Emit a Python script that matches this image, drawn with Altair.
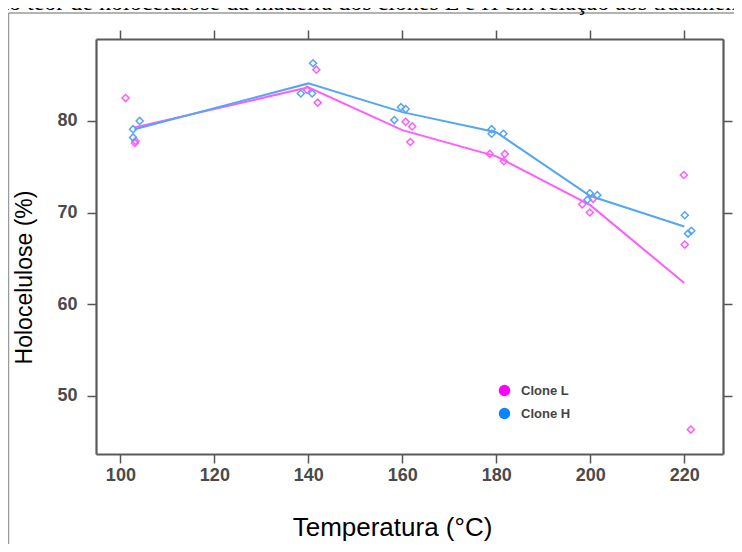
import altair as alt
import pandas as pd

# ---- data ----
temps = [103, 103, 103, 140, 140, 140, 160, 160, 160, 180, 180, 180, 200, 200, 200, 220, 220, 220]
x_L = [101.1, 103.1, 103.2, 141.7, 142.0, 139.7, 160.7, 162.1, 161.7, 178.6, 181.8, 181.6, 198.3, 199.9, 200.6, 219.9, 220.1, 221.4]
y_L = [82.5, 77.6, 77.8, 85.6, 82.0, 83.4, 79.9, 79.4, 77.7, 76.4, 76.4, 75.6, 70.9, 70.0, 71.5, 74.1, 66.5, 46.3]
x_H = [104.1, 102.7, 102.7, 141.0, 138.4, 140.8, 159.7, 160.7, 158.3, 179.0, 179.0, 181.5, 199.9, 201.5, 199.4, 220.1, 220.8, 221.5]
y_H = [80.0, 79.1, 78.2, 86.3, 83.0, 83.0, 81.5, 81.3, 80.1, 79.1, 78.6, 78.6, 72.1, 71.9, 71.4, 69.7, 67.7, 68.0]
clones = ["Clone L", "Clone H"]
legend_labels = ["Clone L", "Clone H"]
point_colors = ["#FF5CFF", "#55A5F5"]
legend_colors = ["#FF00FF", "#0A84FF"]
x_ticks = [100, 120, 140, 160, 180, 200, 220]
y_ticks = [50, 60, 70, 80]
caption = "do teor de holocelulose da madeira dos clones L e H em  relação aos tratamentos"

df = pd.DataFrame({
    "clone": [clones[0]] * len(x_L) + [clones[1]] * len(x_H),
    "temp": temps + temps,
    "x": x_L + x_H,
    "y": y_L + y_H,
})
leg_df = pd.DataFrame({"label": legend_labels})
one = pd.DataFrame({"a": [0]})

xs = alt.Scale(domain=[94.81, 228.24], nice=False, zero=False)
ys = alt.Scale(domain=[43.63, 88.95], nice=False, zero=False)
cs = alt.Scale(domain=clones, range=point_colors)

LABEL_FONT = "Liberation Sans Narrow, Liberation Sans, Arial"
common = dict(tickColor="#555555", tickWidth=1.5, tickSize=9, domain=True, domainColor="#5a5a5a",
              domainWidth=2.2, grid=False,
              labelFont=LABEL_FONT, labelFontSize=18, labelFontWeight="bold", labelColor="#4a4a4a")

points = alt.Chart(df).mark_point(shape="diamond", filled=False, size=50, strokeWidth=1.5, opacity=1).encode(
    x=alt.X("x:Q", scale=xs, axis=alt.Axis(values=x_ticks, orient="bottom", title="Temperatura (°C)",
                                           labelPadding=3, titleFont="Liberation Sans", titleFontSize=26,
                                           titleFontWeight="normal", titleColor="black",
                                           titleX=296, titleY=73, titleBaseline="middle", **common)),
    y=alt.Y("y:Q", scale=ys, axis=alt.Axis(values=y_ticks, orient="left", title="Holocelulose (%)",
                                           labelPadding=10, titleFont="Liberation Sans", titleFontSize=23,
                                           titleFontWeight="normal", titleColor="black",
                                           titleX=-72, titleY=238, titleBaseline="middle", **common)),
    color=alt.Color("clone:N", scale=cs, legend=None),
)

lines = alt.Chart(df).mark_line(strokeWidth=2).encode(
    x=alt.X("temp:Q", scale=xs, title=None,
            axis=alt.Axis(values=x_ticks, orient="top", labels=False, **common)),
    y=alt.Y("mean(y):Q", scale=ys, title=None,
            axis=alt.Axis(values=y_ticks, orient="right", labels=False, **common)),
    color=alt.Color("clone:N", scale=cs, legend=None),
)

legend_layer = alt.Chart(leg_df).mark_circle(size=0, opacity=1).encode(
    color=alt.Color("label:N", scale=alt.Scale(domain=legend_labels, range=legend_colors),
                    legend=alt.Legend(title=None, orient="none", legendX=402, legendY=345,
                                      symbolType="circle", symbolSize=130, symbolOpacity=1,
                                      labelFont="Liberation Sans", labelFontSize=13,
                                      labelFontWeight="bold", labelColor="#444444",
                                      rowPadding=9, padding=0, labelOffset=10)),
)

outer_v = alt.Chart(one).mark_rule(color="#9a9a9a", strokeWidth=1.5).encode(
    x=alt.value(-87.5), y=alt.value(-26), y2=alt.value(505))
outer_h = alt.Chart(one).mark_rule(color="#9a9a9a", strokeWidth=1.5).encode(
    x=alt.value(-87.5), x2=alt.value(640), y=alt.value(-26))
cap = alt.Chart(one).mark_text(align="left", baseline="alphabetic", font="Liberation Serif",
                               fontSize=24, color="black").encode(
    x=alt.value(-99), y=alt.value(-29), text=alt.value(caption))

chart = alt.layer(outer_v, outer_h, cap, lines, points, legend_layer).resolve_axis(
    x="independent", y="independent"
).resolve_scale(color="independent").properties(
    width=627, height=415,
    autosize=alt.AutoSizeParams(type="none"),
    padding={"left": 88, "top": 31, "right": 11, "bottom": 90},
).configure_view(strokeWidth=0).configure(background="white")

chart.save("out.html", embed_options={"renderer": "svg", "actions": False})
